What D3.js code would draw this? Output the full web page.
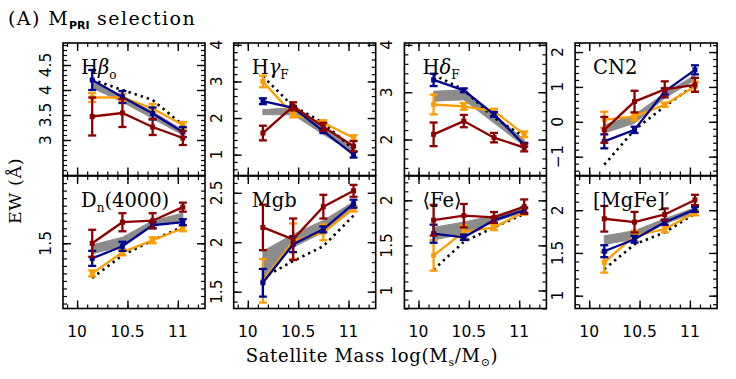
<!DOCTYPE html>
<html>
<head>
<meta charset="utf-8">
<script src="https://cdn.jsdelivr.net/npm/d3@7"></script>
<style>
  body { margin: 0; background: #fff; }
  text { fill: #000; }
</style>
</head>
<body>
<script>
// ---- data ----
const massBins = [10.15, 10.45, 10.75, 11.05];
const xTickLabels = [10, 10.5, 11];

const panelNames = ["Hbeta_o", "Hgamma_F", "Hdelta_F", "CN2", "Dn4000", "Mgb", "Fe", "MgFe'"];

// y ranges and labelled ticks of every panel
const yDomains = [[2.29, 4.94], [0.43, 4.05], [1.24, 4.04], [-1.54, 2.26],
                  [1.067, 1.947], [1.33, 2.67], [0.8, 2.27], [0.85, 2.4]];
const yTickLabels = [[3, 3.5, 4, 4.5], [1, 2, 3, 4], [2, 3, 4], [-1, 0, 1, 2],
                     [1.5], [1.5, 2, 2.5], [1, 1.5, 2], [1, 1.5, 2]];
const yMinorStep = [0.1, 0.2, 0.2, 0.2, 0.05, 0.1, 0.1, 0.1];

// blue series
const blueVal = [[4.20, 3.86, 3.53, 3.16], [2.46, 2.28, 1.64, 1.00], [3.26, 3.04, 2.53, 1.89], [-0.56, -0.23, 0.87, 1.49],
                 [1.40, 1.48, 1.62, 1.64], [1.59, 1.98, 2.13, 2.39], [1.63, 1.59, 1.78, 1.89], [1.52, 1.66, 1.86, 2.01]];
const blueErr = [[0.20, 0.12, 0.12, 0.10], [0.08, 0.05, 0.05, 0.08], [0.13, 0.04, 0.05, 0.04], [0.20, 0.09, 0.09, 0.13],
                 [0.05, 0.03, 0.02, 0.02], [0.14, 0.08, 0.03, 0.04], [0.10, 0.03, 0.03, 0.03], [0.07, 0.04, 0.03, 0.03]];
// orange series
const orangeVal = [[3.85, 3.85, 3.63, 3.30], [3.00, 2.09, 1.87, 1.46], [2.74, 2.70, 2.60, 2.11], [0.06, 0.15, 0.49, 1.01],
                   [1.30, 1.44, 1.52, 1.60], [1.61, 2.01, 2.10, 2.34], [1.39, 1.65, 1.70, 1.87], [1.39, 1.70, 1.78, 1.97]];
const orangeErr = [[0.09, 0.07, 0.09, 0.06], [0.16, 0.07, 0.07, 0.07], [0.21, 0.07, 0.05, 0.06], [0.23, 0.11, 0.06, 0.14],
                   [0.02, 0.02, 0.02, 0.02], [0.22, 0.18, 0.08, 0.03], [0.17, 0.07, 0.03, 0.03], [0.12, 0.06, 0.04, 0.03]];
// dark red series
const redVal = [[3.47, 3.54, 3.26, 3.04], [1.59, 2.32, 1.76, 1.23], [2.11, 2.39, 2.04, 1.83], [-0.23, 0.58, 0.93, 1.06],
                [1.50, 1.64, 1.65, 1.74], [2.15, 2.03, 2.36, 2.52], [1.78, 1.83, 1.81, 1.93], [1.90, 1.86, 1.95, 2.12]];
const redErr = [[0.38, 0.28, 0.16, 0.14], [0.20, 0.11, 0.11, 0.14], [0.25, 0.13, 0.10, 0.08], [0.37, 0.31, 0.23, 0.20],
                [0.09, 0.06, 0.05, 0.03], [0.23, 0.21, 0.12, 0.06], [0.17, 0.13, 0.06, 0.08], [0.15, 0.12, 0.07, 0.06]];
// grey band (low / high)
const bandLo = [[4.04, 3.76, 3.43, 3.10], [2.09, 2.09, 1.55, 1.05], [2.81, 2.84, 2.35, 1.86], [-0.32, -0.04, 0.68, 1.20],
                [1.43, 1.48, 1.62, 1.64], [1.64, 1.95, 2.10, 2.34], [1.56, 1.63, 1.76, 1.87], [1.60, 1.66, 1.84, 1.97]];
const bandHi = [[4.17, 3.86, 3.57, 3.20], [2.23, 2.28, 1.73, 1.23], [3.02, 3.05, 2.53, 2.00], [-0.09, 0.20, 0.82, 1.34],
                [1.49, 1.54, 1.65, 1.70], [1.91, 2.08, 2.22, 2.41], [1.70, 1.76, 1.83, 1.93], [1.70, 1.76, 1.90, 2.03]];
// dotted reference line
const dottedVal = [[4.21, 4.00, 3.80, 3.30], [3.14, 2.32, 1.87, 1.14], [3.37, 3.05, 2.46, 2.06], [-1.23, -0.23, 0.44, 1.06],
                   [1.27, 1.42, 1.52, 1.61], [1.64, 1.81, 1.96, 2.27], [1.23, 1.54, 1.70, 1.85], [1.31, 1.60, 1.74, 1.96]];

// panel titles as rich-text pieces
const panelTitles = [
    [{ t: "H" }, { t: "β", it: true }, { t: "o", sub: true }],
    [{ t: "H" }, { t: "γ", it: true }, { t: "F", sub: true }],
    [{ t: "H" }, { t: "δ", it: true }, { t: "F", sub: true }],
    [{ t: "CN2" }],
    [{ t: "D" }, { t: "n", sub: true }, { t: "(4000)" }],
    [{ t: "Mgb" }],
    [{ t: "⟨Fe⟩" }],
    [{ t: "[MgFe]′" }]
];

const seriesList = [
    { name: "orange", color: "#ff9c00", val: orangeVal, err: orangeErr },
    { name: "blue", color: "#00058f", val: blueVal, err: blueErr },
    { name: "red", color: "#8c0000", val: redVal, err: redErr }
];

// ---- layout ----
const W = 736, H = 379;
const panelW = 142;
const panelLeft0 = 63, panelPitch = 170.7;
const rowTop = [43, 176];
const rowH = 132.5;
const serif = "'DejaVu Serif', 'Liberation Serif', serif";
const sans = "'DejaVu Sans', 'Liberation Sans', sans-serif";

const svg = d3.select("body").append("svg")
    .attr("width", W)
    .attr("height", H)
    .attr("viewBox", [0, 0, W, H]);

const x = d3.scaleLinear().domain([9.86, 11.27]).range([0, panelW]);
const xMinor = d3.range(9.9, 11.25, 0.1).map(v => +v.toFixed(2));

panelNames.forEach((name, p) => {
    const col = p % 4, row = Math.floor(p / 4);
    const left = panelLeft0 + col * panelPitch;
    const top = rowTop[row];

    const y = d3.scaleLinear().domain(yDomains[p]).range([rowH, 0]);
    const g = svg.append("g")
        .attr("class", "panel")
        .attr("transform", `translate(${left},${top})`);

    // grey band
    const area = d3.area()
        .x((d, i) => x(massBins[i]))
        .y0((d, i) => y(bandLo[p][i]))
        .y1((d, i) => y(bandHi[p][i]));
    g.append("path")
        .attr("d", area(massBins))
        .attr("fill", "#8c8c8c")
        .attr("stroke", "#8c8c8c")
        .attr("stroke-width", 1);

    // dotted line
    const line = d3.line().x((d, i) => x(massBins[i])).y(d => y(d));
    g.append("path")
        .attr("d", line(dottedVal[p]))
        .attr("fill", "none")
        .attr("stroke", "#000")
        .attr("stroke-width", 2.6)
        .attr("stroke-dasharray", "2.4,4");

    // coloured series with error bars
    seriesList.forEach(s => {
        const vals = s.val[p], errs = s.err[p];
        const sg = g.append("g").attr("class", "series-" + s.name);
        sg.append("path")
            .attr("d", line(vals))
            .attr("fill", "none")
            .attr("stroke", s.color)
            .attr("stroke-width", 2.3);

        const pts = vals.map((v, i) => ({ x: massBins[i], v: v, e: errs[i] }));
        sg.selectAll(".err")
            .data(pts)
            .join("line")
            .attr("class", "err")
            .attr("x1", d => x(d.x)).attr("x2", d => x(d.x))
            .attr("y1", d => y(d.v - d.e)).attr("y2", d => y(d.v + d.e))
            .attr("stroke", s.color)
            .attr("stroke-width", 2.3);
        [-1, 1].forEach(sign => {
            sg.selectAll(".cap" + (sign > 0 ? "hi" : "lo"))
                .data(pts)
                .join("line")
                .attr("x1", d => x(d.x) - 4).attr("x2", d => x(d.x) + 4)
                .attr("y1", d => y(d.v + sign * d.e)).attr("y2", d => y(d.v + sign * d.e))
                .attr("stroke", s.color)
                .attr("stroke-width", 2.3);
        });
        sg.selectAll(".dot")
            .data(pts)
            .join("rect")
            .attr("x", d => x(d.x) - 2.5).attr("y", d => y(d.v) - 2.5)
            .attr("width", 5).attr("height", 5)
            .attr("fill", s.color);
    });

    // ticks on all four sides, pointing inward
    const yMinor = d3.range(Math.ceil(yDomains[p][0] / yMinorStep[p]) * yMinorStep[p], yDomains[p][1], yMinorStep[p])
        .map(v => +v.toFixed(3));
    const tickSets = [
        { axis: d3.axisBottom(x), tr: `translate(0,${rowH})` },
        { axis: d3.axisTop(x), tr: "translate(0,0)" },
        { axis: d3.axisLeft(y), tr: "translate(0,0)" },
        { axis: d3.axisRight(y), tr: `translate(${panelW},0)` }
    ];
    tickSets.forEach((ts, k) => {
        const isX = k < 2;
        g.append("g")
            .attr("transform", ts.tr)
            .call(ts.axis.tickValues(isX ? xMinor : yMinor).tickSize(-4).tickFormat(""))
            .call(a => a.select(".domain").remove())
            .selectAll("line").attr("stroke", "#000").attr("stroke-width", 1.2);
        const big = isX ? xTickLabels : yTickLabels[p];
        g.append("g")
            .attr("transform", ts.tr)
            .call(ts.axis.tickValues(big).tickSize(-8).tickFormat(""))
            .call(a => a.select(".domain").remove())
            .selectAll("line").attr("stroke", "#000").attr("stroke-width", 1.4);
    });

    // frame
    g.append("rect")
        .attr("width", panelW).attr("height", rowH)
        .attr("fill", "none")
        .attr("stroke", "#000")
        .attr("stroke-width", 1.6);

    // y tick labels, rotated, left of the frame
    g.selectAll(".ylab")
        .data(yTickLabels[p])
        .join("text")
        .attr("class", "ylab")
        .attr("transform", d => `translate(-12,${y(d)}) rotate(-90)`)
        .attr("text-anchor", "middle")
        .attr("font-family", sans)
        .attr("font-size", 15.5)
        .text(d => d < 0 ? "−" + Math.abs(d) : d);

    // x tick labels only on bottom row
    if (row === 1) {
        g.selectAll(".xlab")
            .data(xTickLabels)
            .join("text")
            .attr("class", "xlab")
            .attr("x", d => x(d))
            .attr("y", rowH + 28)
            .attr("text-anchor", "middle")
            .attr("font-family", sans)
            .attr("font-size", 15.5)
            .text(d => d);
    }

    // panel title
    const t = g.append("text")
        .attr("x", 18)
        .attr("y", 31)
        .attr("font-family", serif)
        .attr("font-size", 19.5);
    panelTitles[p].forEach((piece, i) => {
        const span = t.append("tspan").text(piece.t);
        if (piece.it) span.attr("font-style", "italic");
        if (piece.sub) span.attr("font-size", 12).attr("dy", 5);
        else if (i > 0 && panelTitles[p][i - 1].sub) span.attr("dy", -5);
    });
});

// figure title
const title = svg.append("text")
    .attr("x", 8)
    .attr("y", 25)
    .attr("font-family", serif)
    .attr("font-size", 19)
    .attr("letter-spacing", 1.4);
title.append("tspan").text("(A) M");
title.append("tspan").text("PRI").attr("font-size", 11).attr("dy", 4).attr("font-weight", "bold")
    .attr("font-family", sans).attr("letter-spacing", 0);
title.append("tspan").text(" selection").attr("dy", -4);

// axis titles
svg.append("text")
    .attr("transform", "translate(21,191) rotate(-90)")
    .attr("text-anchor", "middle")
    .attr("font-family", serif)
    .attr("font-size", 17.5)
    .attr("letter-spacing", 0.6)
    .text("EW (Å)");

const xt = svg.append("text")
    .attr("x", 372)
    .attr("y", 362)
    .attr("text-anchor", "middle")
    .attr("font-family", serif)
    .attr("font-size", 18)
    .attr("letter-spacing", 0.7);
xt.append("tspan").text("Satellite Mass log(M");
xt.append("tspan").text("s").attr("font-size", 11).attr("dy", 4);
xt.append("tspan").text("/M").attr("dy", -4);
xt.append("tspan").text("⊙").attr("font-size", 11).attr("dy", 4);
xt.append("tspan").text(")").attr("dy", -4);
</script>
</body>
</html>
